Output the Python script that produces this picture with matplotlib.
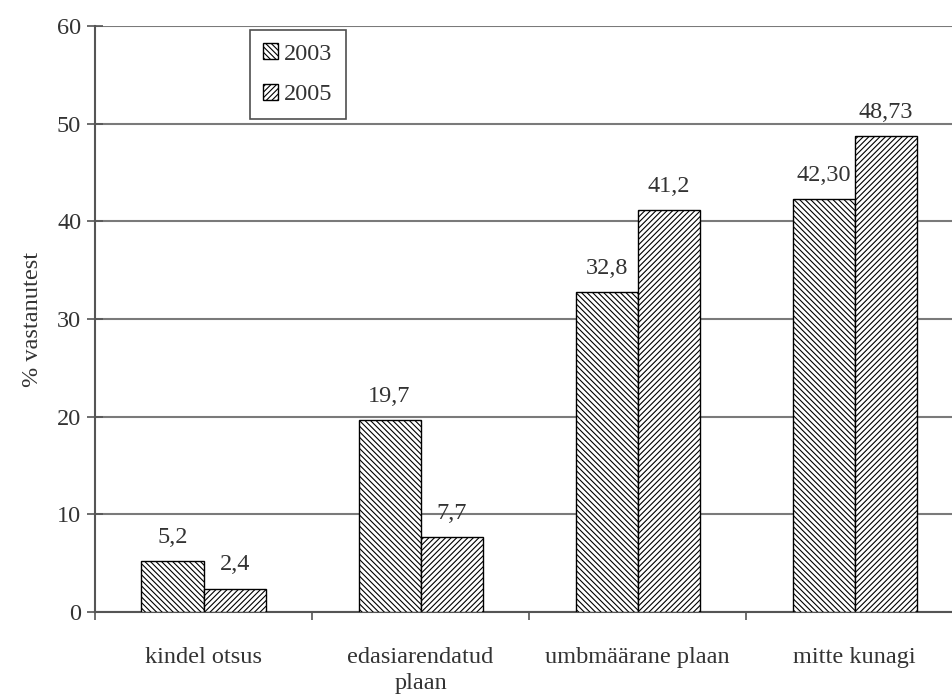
import matplotlib.pyplot as plt
import numpy as np

plt.rcParams['font.family'] = ['Liberation Serif', 'DejaVu Serif']
plt.rcParams['hatch.linewidth'] = 0.8
plt.rcParams['hatch.color'] = '#222222'

categories = ['kindel otsus', 'edasiarendatud\nplaan', 'umbmäärane plaan', 'mitte kunagi']
years = ['2003', '2005']
values_2003 = [5.2, 19.7, 32.8, 42.30]
values_2005 = [2.4, 7.7, 41.2, 48.73]
decimals_2003 = [1, 1, 1, 2]
decimals_2005 = [1, 1, 1, 2]
hatches = ['\\' * 6, '/' * 6]

text_color = '#333333'
axis_color = '#555555'
fs = 17.5

fig = plt.figure(figsize=(9.53, 6.97), dpi=100)
ax = fig.add_axes([0.0997, 0.122, 0.911, 0.8407])

x = np.arange(len(categories))
width = 0.286
series = [(values_2003, decimals_2003), (values_2005, decimals_2005)]
for i, (vals, decs) in enumerate(series):
    pos = x + (i - 0.5) * width
    bars = ax.bar(pos, vals, width, color='white', edgecolor='black',
                  linewidth=1.0, hatch=hatches[i], label=years[i], zorder=3)
    for b, v, d in zip(bars, vals, decs):
        ax.annotate(f'{v:.{d}f}'.replace('.', ','),
                    (b.get_x() + b.get_width() / 2, v),
                    xytext=(0, 13), textcoords='offset points',
                    ha='center', va='baseline', fontsize=fs, color=text_color)

ax.set_xlim(-0.5, len(categories) - 0.5)
ax.set_ylim(0, 60)
ax.set_yticks(np.arange(0, 61, 10))
ax.yaxis.grid(True, color='#7a7a7a', linewidth=1.5, zorder=0)
ax.tick_params(axis='y', direction='inout', length=12, width=1.2,
               color=axis_color, labelsize=fs, labelcolor=text_color, pad=4)

# category boundaries carry the ticks, labels sit at the centres
ax.set_xticks(np.arange(len(categories) + 1) - 0.5)
ax.set_xticklabels([])
ax.set_xticks(x, minor=True)
ax.set_xticklabels(categories, minor=True, fontsize=fs, color=text_color,
                   linespacing=1.35)
ax.tick_params(axis='x', which='major', direction='out', length=6,
               width=1.2, color=axis_color)
ax.tick_params(axis='x', which='minor', length=0, pad=25)

for side in ['top', 'right']:
    ax.spines[side].set_visible(False)
for side in ['left', 'bottom']:
    ax.spines[side].set_color(axis_color)
    ax.spines[side].set_linewidth(1.5)

ax.set_ylabel('% vastanutest', fontsize=fs, color=text_color, labelpad=10)

leg = ax.legend(loc='upper left', bbox_to_anchor=(0.1786, 0.993),
                fontsize=fs, frameon=True, fancybox=False, edgecolor='#222222',
                handlelength=0.6, handleheight=0.6, handletextpad=0.25,
                labelspacing=0.8, borderpad=0.55, borderaxespad=0)
leg.get_frame().set_linewidth(1.2)
for t in leg.get_texts():
    t.set_color(text_color)

fig.savefig('out.png', dpi=100)
